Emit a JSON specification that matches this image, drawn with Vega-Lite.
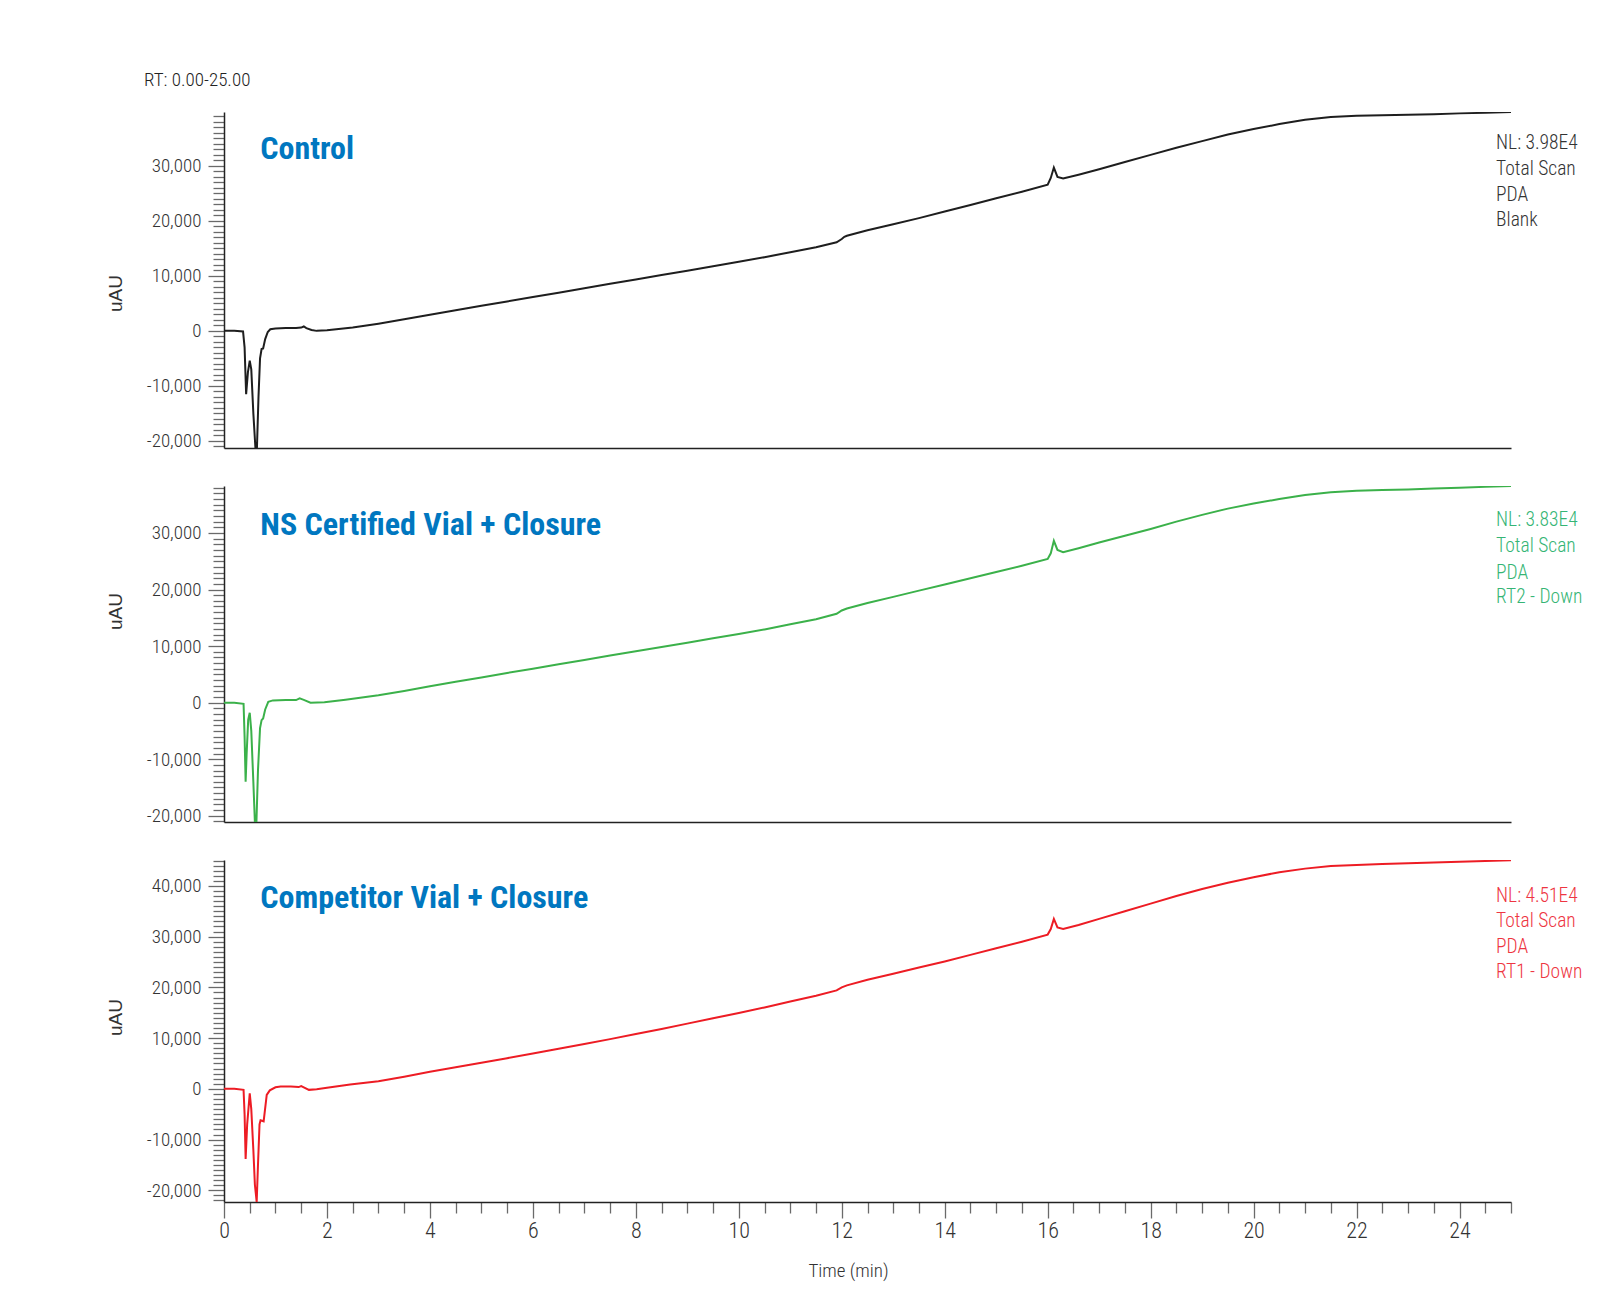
{
  "$schema": "https://vega.github.io/schema/vega-lite/v6.json",
  "background": "white",
  "padding": {"left": 105, "top": 71, "right": 20, "bottom": 10},
  "spacing": 38,
  "bounds": "flush",
  "title": {"text": "RT: 0.00-25.00", "anchor": "start", "frame": "bounds", "dx": 38, "offset": 17, "baseline": "top", "font": "Liberation Sans Narrow, Noto Sans Condensed, Roboto Condensed, DejaVu Sans Condensed, sans-serif", "fontSize": 19, "fontWeight": 300, "color": "#222222"},
  "config": {
    "view": {"stroke": null},
    "axis": {"grid": false, "domainColor": "#222222", "domainWidth": 1.5, "tickColor": "#6a6a6a", "tickWidth": 1.3, "labelFont": "Liberation Sans Narrow, Noto Sans Condensed, Roboto Condensed, DejaVu Sans Condensed, sans-serif", "labelFontSize": 19, "labelFontWeight": 300, "labelColor": "#333333", "labelOverlap": false, "labelFlush": false, "titleFont": "Liberation Sans, Arial, sans-serif", "titleFontSize": 19, "titleFontWeight": "normal", "titleColor": "#333333"}
  },
  "datasets": {
    "control": [
      {"t":0,"v":0},{"t":0.2,"v":0},{"t":0.37,"v":-100},{"t":0.4,"v":-3000},{"t":0.43,"v":-11500},{"t":0.465,"v":-7500},{"t":0.5,"v":-5400},{"t":0.53,"v":-7000},{"t":0.57,"v":-15000},{"t":0.61,"v":-21200},{"t":0.64,"v":-21200},{"t":0.67,"v":-12000},{"t":0.7,"v":-5000},{"t":0.73,"v":-3300},{"t":0.76,"v":-3200},{"t":0.8,"v":-1500},{"t":0.85,"v":-200},{"t":0.9,"v":300},{"t":1.0,"v":450},{"t":1.2,"v":500},{"t":1.4,"v":500},{"t":1.5,"v":600},{"t":1.55,"v":800},{"t":1.6,"v":500},{"t":1.7,"v":150},{"t":1.8,"v":0},{"t":2.0,"v":100},{"t":2.5,"v":600},{"t":3.0,"v":1300},{"t":3.5,"v":2100},{"t":4.0,"v":2950},{"t":4.5,"v":3750},{"t":5.0,"v":4550},{"t":5.5,"v":5350},{"t":6.0,"v":6150},{"t":6.5,"v":6950},{"t":7.0,"v":7750},{"t":7.5,"v":8550},{"t":8.0,"v":9350},{"t":8.5,"v":10150},{"t":9.0,"v":10950},{"t":9.5,"v":11750},{"t":10.0,"v":12550},{"t":10.5,"v":13400},{"t":11.0,"v":14300},{"t":11.5,"v":15200},{"t":11.9,"v":16100},{"t":12.0,"v":16700},{"t":12.05,"v":17100},{"t":12.1,"v":17300},{"t":12.5,"v":18300},{"t":13.0,"v":19400},{"t":13.5,"v":20500},{"t":14.0,"v":21700},{"t":14.5,"v":22900},{"t":15.0,"v":24100},{"t":15.5,"v":25300},{"t":16.0,"v":26600},{"t":16.06,"v":27800},{"t":16.12,"v":29700},{"t":16.19,"v":28000},{"t":16.3,"v":27700},{"t":16.6,"v":28400},{"t":17.0,"v":29400},{"t":17.5,"v":30700},{"t":18.0,"v":32000},{"t":18.5,"v":33300},{"t":19.0,"v":34500},{"t":19.5,"v":35700},{"t":20.0,"v":36700},{"t":20.5,"v":37600},{"t":21.0,"v":38400},{"t":21.5,"v":38900},{"t":22.0,"v":39100},{"t":22.5,"v":39200},{"t":23.0,"v":39300},{"t":23.5,"v":39400},{"t":24.0,"v":39550},{"t":24.5,"v":39650},{"t":25.0,"v":39800}
    ],
    "ns": [
      {"t":0,"v":0},{"t":0.2,"v":0},{"t":0.38,"v":-200},{"t":0.4,"v":-6000},{"t":0.42,"v":-14000},{"t":0.44,"v":-9000},{"t":0.47,"v":-3000},{"t":0.5,"v":-1800},{"t":0.53,"v":-5000},{"t":0.57,"v":-14000},{"t":0.6,"v":-21100},{"t":0.63,"v":-21100},{"t":0.66,"v":-12000},{"t":0.7,"v":-4500},{"t":0.73,"v":-3100},{"t":0.76,"v":-2800},{"t":0.8,"v":-1200},{"t":0.86,"v":150},{"t":0.95,"v":400},{"t":1.2,"v":450},{"t":1.4,"v":450},{"t":1.47,"v":750},{"t":1.55,"v":500},{"t":1.68,"v":0},{"t":1.95,"v":50},{"t":2.36,"v":500},{"t":3.0,"v":1300},{"t":3.5,"v":2050},{"t":4.0,"v":2900},{"t":4.5,"v":3700},{"t":5.0,"v":4450},{"t":5.5,"v":5250},{"t":6.0,"v":6000},{"t":6.5,"v":6800},{"t":7.0,"v":7550},{"t":7.5,"v":8350},{"t":8.0,"v":9100},{"t":8.5,"v":9850},{"t":9.0,"v":10600},{"t":9.5,"v":11400},{"t":10.0,"v":12150},{"t":10.5,"v":12950},{"t":11.0,"v":13850},{"t":11.5,"v":14750},{"t":11.9,"v":15700},{"t":12.0,"v":16300},{"t":12.1,"v":16650},{"t":12.5,"v":17600},{"t":13.0,"v":18700},{"t":13.5,"v":19800},{"t":14.0,"v":20900},{"t":14.5,"v":22000},{"t":15.0,"v":23100},{"t":15.5,"v":24200},{"t":16.0,"v":25400},{"t":16.06,"v":26400},{"t":16.12,"v":28600},{"t":16.19,"v":27000},{"t":16.3,"v":26600},{"t":16.6,"v":27300},{"t":17.0,"v":28300},{"t":17.5,"v":29500},{"t":18.0,"v":30700},{"t":18.5,"v":32000},{"t":19.0,"v":33200},{"t":19.5,"v":34300},{"t":20.0,"v":35200},{"t":20.5,"v":36000},{"t":21.0,"v":36700},{"t":21.5,"v":37200},{"t":22.0,"v":37450},{"t":22.5,"v":37600},{"t":23.0,"v":37700},{"t":23.5,"v":37850},{"t":24.0,"v":38000},{"t":24.5,"v":38150},{"t":25.0,"v":38300}
    ],
    "comp": [
      {"t":0,"v":0},{"t":0.2,"v":0},{"t":0.38,"v":-200},{"t":0.4,"v":-5000},{"t":0.42,"v":-13800},{"t":0.45,"v":-7000},{"t":0.5,"v":-900},{"t":0.53,"v":-4000},{"t":0.57,"v":-12000},{"t":0.6,"v":-18900},{"t":0.635,"v":-22300},{"t":0.66,"v":-15000},{"t":0.69,"v":-7000},{"t":0.71,"v":-6200},{"t":0.77,"v":-6400},{"t":0.83,"v":-1200},{"t":0.89,"v":-300},{"t":1.0,"v":300},{"t":1.1,"v":450},{"t":1.3,"v":450},{"t":1.45,"v":350},{"t":1.5,"v":550},{"t":1.55,"v":300},{"t":1.65,"v":-200},{"t":1.8,"v":-100},{"t":2.0,"v":200},{"t":2.45,"v":850},{"t":3.0,"v":1500},{"t":3.5,"v":2400},{"t":4.0,"v":3350},{"t":4.5,"v":4250},{"t":5.0,"v":5150},{"t":5.5,"v":6050},{"t":6.0,"v":6950},{"t":6.5,"v":7900},{"t":7.0,"v":8850},{"t":7.5,"v":9800},{"t":8.0,"v":10800},{"t":8.5,"v":11800},{"t":9.0,"v":12850},{"t":9.5,"v":13900},{"t":10.0,"v":14950},{"t":10.5,"v":16050},{"t":11.0,"v":17200},{"t":11.5,"v":18350},{"t":11.9,"v":19400},{"t":12.0,"v":20000},{"t":12.1,"v":20400},{"t":12.5,"v":21500},{"t":13.0,"v":22700},{"t":13.5,"v":23900},{"t":14.0,"v":25100},{"t":14.5,"v":26400},{"t":15.0,"v":27700},{"t":15.5,"v":29000},{"t":16.0,"v":30400},{"t":16.06,"v":31500},{"t":16.12,"v":33500},{"t":16.19,"v":31800},{"t":16.3,"v":31500},{"t":16.6,"v":32300},{"t":17.0,"v":33500},{"t":17.5,"v":35000},{"t":18.0,"v":36500},{"t":18.5,"v":38000},{"t":19.0,"v":39400},{"t":19.5,"v":40600},{"t":20.0,"v":41700},{"t":20.5,"v":42700},{"t":21.0,"v":43400},{"t":21.5,"v":43900},{"t":22.0,"v":44100},{"t":22.5,"v":44300},{"t":23.0,"v":44450},{"t":23.5,"v":44600},{"t":24.0,"v":44750},{"t":24.5,"v":44900},{"t":25.0,"v":45050}
    ]
  },
  "vconcat": [
    {
      "width": 1287, "height": 336,
      "encoding": {
        "x": {"field": "t", "type": "quantitative", "scale": {"domain": [0, 25], "nice": false, "zero": false}, "axis": {"labels": false, "ticks": false, "title": null}},
        "y": {"field": "v", "type": "quantitative", "scale": {"domain": [-21300, 39800], "nice": false, "zero": false},
          "axis": {"title": "uAU", "titleX": -109, "titleY": 181, "titleBaseline": "middle", "labelPadding": 7,
            "values": [-21000,-20000,-19000,-18000,-17000,-16000,-15000,-14000,-13000,-12000,-11000,-10000,-9000,-8000,-7000,-6000,-5000,-4000,-3000,-2000,-1000,0,1000,2000,3000,4000,5000,6000,7000,8000,9000,10000,11000,12000,13000,14000,15000,16000,17000,18000,19000,20000,21000,22000,23000,24000,25000,26000,27000,28000,29000,30000,31000,32000,33000,34000,35000,36000,37000,38000,39000],
            "labelExpr": "datum.value % 10000 === 0 ? (datum.value < 0 ? '-' + format(-datum.value, ',') : format(datum.value, ',')) : ''",
            "tickSize": {"condition": {"test": "datum.value % 10000 === 0", "value": 16}, "value": 11}}}
      },
      "layer": [
        {"data": {"name": "control"}, "mark": {"type": "line", "color": "#1e1e1e", "strokeWidth": 2, "clip": true}},
        {"data": {"values": [{"t": 0.705, "v": 33080, "label": "Control"}]},
         "mark": {"type": "text", "align": "left", "baseline": "middle", "font": "Liberation Sans Narrow, Noto Sans Condensed, Roboto Condensed, DejaVu Sans Condensed, sans-serif", "fontWeight": "bold", "fontSize": 32, "color": "#0077c0"},
         "encoding": {"text": {"field": "label"}}},
        {"data": {"values": [{"t": 24.71, "v": 34080, "label": "NL: 3.98E4"}, {"t": 24.71, "v": 29390, "label": "Total Scan"}, {"t": 24.71, "v": 24620, "label": "PDA"}, {"t": 24.71, "v": 20130, "label": "Blank"}]},
         "mark": {"type": "text", "align": "left", "baseline": "middle", "font": "Liberation Sans Narrow, Noto Sans Condensed, Roboto Condensed, DejaVu Sans Condensed, sans-serif", "fontSize": 19.5, "fontWeight": 300, "color": "#333333"},
         "encoding": {"text": {"field": "label"}}}
      ]
    },
    {
      "width": 1287, "height": 336,
      "encoding": {
        "x": {"field": "t", "type": "quantitative", "scale": {"domain": [0, 25], "nice": false, "zero": false}, "axis": {"labels": false, "ticks": false, "title": null}},
        "y": {"field": "v", "type": "quantitative", "scale": {"domain": [-21100, 38300], "nice": false, "zero": false},
          "axis": {"title": "uAU", "titleX": -109, "titleY": 125, "titleBaseline": "middle", "labelPadding": 7,
            "values": [-21000,-20000,-19000,-18000,-17000,-16000,-15000,-14000,-13000,-12000,-11000,-10000,-9000,-8000,-7000,-6000,-5000,-4000,-3000,-2000,-1000,0,1000,2000,3000,4000,5000,6000,7000,8000,9000,10000,11000,12000,13000,14000,15000,16000,17000,18000,19000,20000,21000,22000,23000,24000,25000,26000,27000,28000,29000,30000,31000,32000,33000,34000,35000,36000,37000,38000],
            "labelExpr": "datum.value % 10000 === 0 ? (datum.value < 0 ? '-' + format(-datum.value, ',') : format(datum.value, ',')) : ''",
            "tickSize": {"condition": {"test": "datum.value % 10000 === 0", "value": 16}, "value": 11}}}
      },
      "layer": [
        {"data": {"name": "ns"}, "mark": {"type": "line", "color": "#3bb14a", "strokeWidth": 2, "clip": true}},
        {"data": {"values": [{"t": 0.705, "v": 31410, "label": "NS Certified Vial + Closure"}]},
         "mark": {"type": "text", "align": "left", "baseline": "middle", "font": "Liberation Sans Narrow, Noto Sans Condensed, Roboto Condensed, DejaVu Sans Condensed, sans-serif", "fontWeight": "bold", "fontSize": 32, "color": "#0077c0"},
         "encoding": {"text": {"field": "label"}}},
        {"data": {"values": [{"t": 24.71, "v": 32350, "label": "NL: 3.83E4"}, {"t": 24.71, "v": 27740, "label": "Total Scan"}, {"t": 24.71, "v": 22980, "label": "PDA"}, {"t": 24.71, "v": 18650, "label": "RT2 - Down"}]},
         "mark": {"type": "text", "align": "left", "baseline": "middle", "font": "Liberation Sans Narrow, Noto Sans Condensed, Roboto Condensed, DejaVu Sans Condensed, sans-serif", "fontSize": 19.5, "fontWeight": 300, "color": "#35b575"},
         "encoding": {"text": {"field": "label"}}}
      ]
    },
    {
      "width": 1287, "height": 342,
      "encoding": {
        "x": {"field": "t", "type": "quantitative", "scale": {"domain": [0, 25], "nice": false, "zero": false},
          "axis": {"title": "Time (min)", "titleFont": "Liberation Sans Narrow, Noto Sans Condensed, Roboto Condensed, DejaVu Sans Condensed, sans-serif", "titleFontSize": 19, "titleFontWeight": 300, "titleX": 624, "titleY": 59, "titleBaseline": "top",
            "labelFontSize": 22, "labelPadding": 2,
            "values": [0,0.5,1,1.5,2,2.5,3,3.5,4,4.5,5,5.5,6,6.5,7,7.5,8,8.5,9,9.5,10,10.5,11,11.5,12,12.5,13,13.5,14,14.5,15,15.5,16,16.5,17,17.5,18,18.5,19,19.5,20,20.5,21,21.5,22,22.5,23,23.5,24,24.5,25],
            "labelExpr": "datum.value % 2 === 0 ? format(datum.value, 'd') : ''",
            "tickSize": {"condition": {"test": "datum.value % 2 === 0", "value": 16}, "value": 11}}},
        "y": {"field": "v", "type": "quantitative", "scale": {"domain": [-22300, 45100], "nice": false, "zero": false},
          "axis": {"title": "uAU", "titleX": -109, "titleY": 157, "titleBaseline": "middle", "labelPadding": 7,
            "values": [-22000,-21000,-20000,-19000,-18000,-17000,-16000,-15000,-14000,-13000,-12000,-11000,-10000,-9000,-8000,-7000,-6000,-5000,-4000,-3000,-2000,-1000,0,1000,2000,3000,4000,5000,6000,7000,8000,9000,10000,11000,12000,13000,14000,15000,16000,17000,18000,19000,20000,21000,22000,23000,24000,25000,26000,27000,28000,29000,30000,31000,32000,33000,34000,35000,36000,37000,38000,39000,40000,41000,42000,43000,44000,45000],
            "labelExpr": "datum.value % 10000 === 0 ? (datum.value < 0 ? '-' + format(-datum.value, ',') : format(datum.value, ',')) : ''",
            "tickSize": {"condition": {"test": "datum.value % 10000 === 0", "value": 16}, "value": 11}}}
      },
      "layer": [
        {"data": {"name": "comp"}, "mark": {"type": "line", "color": "#ed1c24", "strokeWidth": 2, "clip": true}},
        {"data": {"values": [{"t": 0.705, "v": 37520, "label": "Competitor Vial + Closure"}]},
         "mark": {"type": "text", "align": "left", "baseline": "middle", "font": "Liberation Sans Narrow, Noto Sans Condensed, Roboto Condensed, DejaVu Sans Condensed, sans-serif", "fontWeight": "bold", "fontSize": 32, "color": "#0077c0"},
         "encoding": {"text": {"field": "label"}}},
        {"data": {"values": [{"t": 24.71, "v": 38020, "label": "NL: 4.51E4"}, {"t": 24.71, "v": 33090, "label": "Total Scan"}, {"t": 24.71, "v": 28010, "label": "PDA"}, {"t": 24.71, "v": 23080, "label": "RT1 - Down"}]},
         "mark": {"type": "text", "align": "left", "baseline": "middle", "font": "Liberation Sans Narrow, Noto Sans Condensed, Roboto Condensed, DejaVu Sans Condensed, sans-serif", "fontSize": 19.5, "fontWeight": 300, "color": "#ee3542"},
         "encoding": {"text": {"field": "label"}}}
      ]
    }
  ]
}
